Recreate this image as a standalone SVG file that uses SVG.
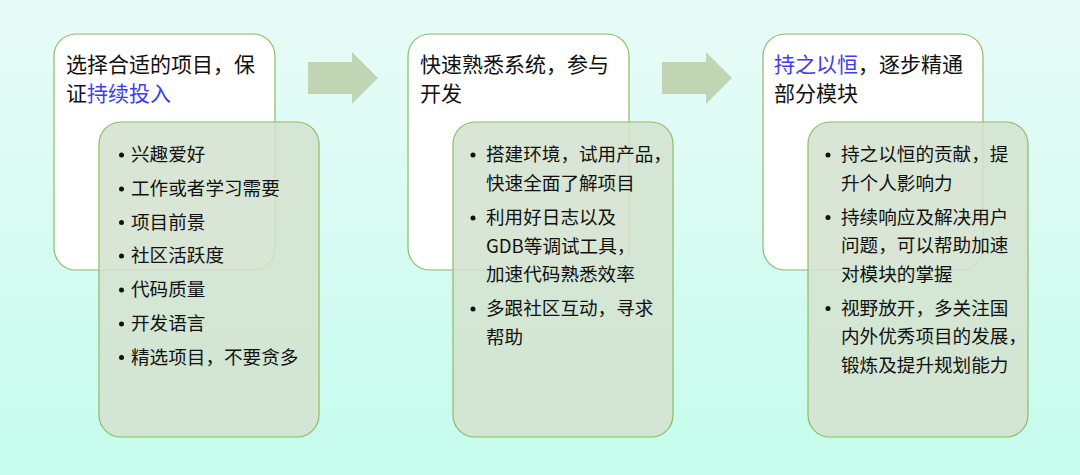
<svg xmlns="http://www.w3.org/2000/svg" width="1080" height="475" viewBox="0 0 1080 475">
<defs>
<linearGradient id="bg" x1="0" y1="0" x2="0" y2="1">
<stop offset="0" stop-color="#e9fbf8"/>
<stop offset="1" stop-color="#c5fcec"/>
</linearGradient>
<style>
.top{fill:#ffffff;stroke:#8dbb66;stroke-width:1.2}
.sub{fill:#d4e3cf;fill-opacity:0.88;stroke:#8dbb66;stroke-width:1.2}
.arrow{fill:#c1d5b5}
.title{font-family:"Microsoft YaHei","Noto Sans CJK SC",sans-serif;font-size:21px;fill:#111111}
.hl{fill:#3c3cf2}
.item{font-family:"Microsoft YaHei","Noto Sans CJK SC",sans-serif;font-size:18.6px;fill:#111111}
.dot{fill:#111111}
</style>
</defs>
<rect width="1080" height="475" fill="url(#bg)"/>
<g id="connectors">
<polygon class="arrow" points="308,62 352,62 352,52 378,78 352,104 352,94 308,94"/>
<polygon class="arrow" points="662,62 706,62 706,52 732,78 706,104 706,94 662,94"/>
</g>
<g id="node1">
<rect class="top" x="54" y="34" width="221" height="236" rx="22"/>
<text class="title" x="66" y="72">选择合适的项目，保</text>
<text class="title" x="66" y="101">证<tspan class="hl">持续投入</tspan></text>
<rect class="sub" x="99" y="122" width="220" height="315" rx="22"/>
<g class="item">
<circle class="dot" cx="121.5" cy="155" r="2.5"/><text x="131" y="161">兴趣爱好</text>
<circle class="dot" cx="121.5" cy="189" r="2.5"/><text x="131" y="195">工作或者学习需要</text>
<circle class="dot" cx="121.5" cy="222.5" r="2.5"/><text x="131" y="228.5">项目前景</text>
<circle class="dot" cx="121.5" cy="256" r="2.5"/><text x="131" y="262">社区活跃度</text>
<circle class="dot" cx="121.5" cy="290" r="2.5"/><text x="131" y="296">代码质量</text>
<circle class="dot" cx="121.5" cy="324" r="2.5"/><text x="131" y="330">开发语言</text>
<circle class="dot" cx="121.5" cy="357.5" r="2.5"/><text x="131" y="363.5">精选项目，不要贪多</text>
</g>
</g>
<g id="node2">
<rect class="top" x="408" y="34" width="221" height="236" rx="22"/>
<text class="title" x="420" y="72">快速熟悉系统，参与</text>
<text class="title" x="420" y="101">开发</text>
<rect class="sub" x="453" y="122" width="220" height="315" rx="22"/>
<g class="item">
<circle class="dot" cx="473" cy="155" r="2.5"/><text x="486" y="161">搭建环境，试用产品，</text>
<text x="486" y="189.5">快速全面了解项目</text>
<circle class="dot" cx="473" cy="218" r="2.5"/><text x="486" y="224">利用好日志以及</text>
<text x="486" y="252.5">GDB等调试工具，</text>
<text x="486" y="281">加速代码熟悉效率</text>
<circle class="dot" cx="473" cy="309" r="2.5"/><text x="486" y="315">多跟社区互动，寻求</text>
<text x="486" y="343.5">帮助</text>
</g>
</g>
<g id="node3">
<rect class="top" x="763" y="34" width="220" height="236" rx="22"/>
<text class="title" x="774" y="72"><tspan class="hl">持之以恒</tspan>，逐步精通</text>
<text class="title" x="774" y="101">部分模块</text>
<rect class="sub" x="808" y="122" width="220" height="315" rx="22"/>
<g class="item">
<circle class="dot" cx="828" cy="155" r="2.5"/><text x="841" y="161">持之以恒的贡献，提</text>
<text x="841" y="189.5">升个人影响力</text>
<circle class="dot" cx="828" cy="217.5" r="2.5"/><text x="841" y="223.5">持续响应及解决用户</text>
<text x="841" y="252">问题，可以帮助加速</text>
<text x="841" y="280.5">对模块的掌握</text>
<circle class="dot" cx="828" cy="308.5" r="2.5"/><text x="841" y="314.5">视野放开，多关注国</text>
<text x="841" y="343">内外优秀项目的发展，</text>
<text x="841" y="371.5">锻炼及提升规划能力</text>
</g>
</g>
</svg>
